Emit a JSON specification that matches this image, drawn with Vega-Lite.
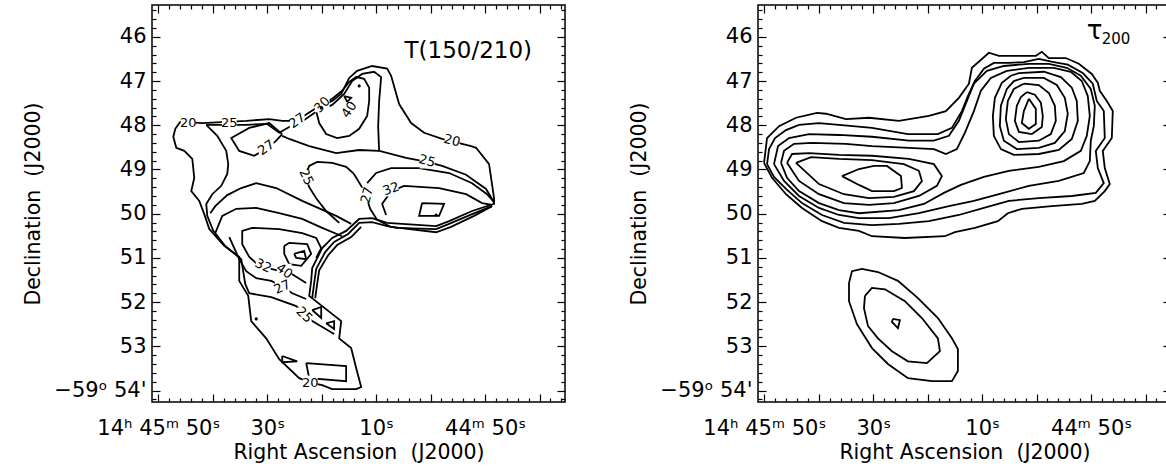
{
"$schema": "https://vega.github.io/schema/vega-lite/v6.json",
"background": "white",
"padding": {"left": 23, "top": -2, "right": 0, "bottom": 0},
"spacing": 62,
"config": {
  "font": "DejaVu Sans",
  "view": {"stroke": "black", "strokeWidth": 1.5},
  "axis": {"domain": false, "grid": false, "tickColor": "black", "tickWidth": 1.2, "labelFont": "DejaVu Sans", "labelFontSize": 21, "labelColor": "black", "titleFont": "DejaVu Sans", "titleFontSize": 20.5, "titleFontWeight": "normal", "titleColor": "black", "labelOverlap": false, "labelFlush": false, "labelBound": false}
},
"datasets": {
"L": [
{"c":"a","i":1,"ra":105.97,"dec":47.92},{"c":"a","i":2,"ra":106.88,"dec":48.08},{"c":"a","i":3,"ra":107.25,"dec":48.26},{"c":"a","i":4,"ra":106.70,"dec":48.51},{"c":"a","i":5,"ra":105.23,"dec":48.58},{"c":"a","i":6,"ra":103.76,"dec":48.76},{"c":"a","i":7,"ra":103.40,"dec":49.19},{"c":"a","i":8,"ra":103.95,"dec":49.49},{"c":"a","i":9,"ra":102.48,"dec":49.71},{"c":"a","i":10,"ra":101.56,"dec":50.01},{"c":"a","i":11,"ra":100.64,"dec":50.35},{"c":"a","i":12,"ra":97.89,"dec":50.73},{"c":"a","i":13,"ra":95.14,"dec":50.98},{"c":"a","i":14,"ra":95.14,"dec":51.52},{"c":"a","i":15,"ra":93.49,"dec":51.86},{"c":"a","i":16,"ra":92.94,"dec":52.43},{"c":"a","i":17,"ra":90.19,"dec":52.82},{"c":"a","i":18,"ra":87.80,"dec":53.29},{"c":"a","i":19,"ra":84.13,"dec":53.72},{"c":"a","i":20,"ra":81.93,"dec":53.83},{"c":"a","i":21,"ra":79.91,"dec":53.88},{"c":"a","i":22,"ra":78.07,"dec":53.97},{"c":"a","i":23,"ra":73.67,"dec":53.97},{"c":"a","i":24,"ra":72.75,"dec":53.92},{"c":"a","i":25,"ra":73.67,"dec":53.49},{"c":"a","i":26,"ra":74.59,"dec":53.04},{"c":"a","i":27,"ra":76.79,"dec":52.82},{"c":"a","i":28,"ra":76.42,"dec":52.43},{"c":"a","i":29,"ra":82.29,"dec":51.86},{"c":"a","i":30,"ra":81.93,"dec":51.52},{"c":"a","i":31,"ra":81.74,"dec":51.23},{"c":"a","i":32,"ra":79.91,"dec":50.78},{"c":"a","i":33,"ra":78.07,"dec":50.55},{"c":"a","i":34,"ra":75.51,"dec":50.39},{"c":"a","i":35,"ra":73.12,"dec":50.12},{"c":"a","i":36,"ra":70.73,"dec":50.10},{"c":"a","i":37,"ra":67.98,"dec":50.21},{"c":"a","i":38,"ra":58.99,"dec":50.28},{"c":"a","i":39,"ra":56.60,"dec":50.17},{"c":"a","i":40,"ra":52.38,"dec":49.94},{"c":"a","i":41,"ra":48.35,"dec":49.78},{"c":"a","i":42,"ra":48.35,"dec":49.65},{"c":"a","i":43,"ra":49.26,"dec":48.88},{"c":"a","i":44,"ra":51.65,"dec":48.51},{"c":"a","i":45,"ra":52.57,"dec":48.47},{"c":"a","i":46,"ra":57.89,"dec":48.31},{"c":"a","i":47,"ra":61.19,"dec":48.17},{"c":"a","i":48,"ra":63.58,"dec":47.95},{"c":"a","i":49,"ra":65.78,"dec":47.52},{"c":"a","i":50,"ra":67.25,"dec":46.88},{"c":"a","i":51,"ra":67.98,"dec":46.72},{"c":"a","i":52,"ra":70.73,"dec":46.66},{"c":"a","i":53,"ra":73.49,"dec":46.77},{"c":"a","i":54,"ra":74.95,"dec":46.93},{"c":"a","i":55,"ra":76.42,"dec":47.29},{"c":"a","i":56,"ra":78.07,"dec":47.45},{"c":"a","i":57,"ra":81.01,"dec":47.61},{"c":"a","i":58,"ra":84.68,"dec":47.90},{"c":"a","i":59,"ra":87.25,"dec":47.90},{"c":"a","i":60,"ra":89.63,"dec":47.86},{"c":"a","i":61,"ra":93.86,"dec":47.90},{"c":"a","i":62,"ra":101.93,"dec":47.95},{"c":"a","i":63,"ra":105.97,"dec":47.92},
{"c":"b","i":1,"ra":101.20,"dec":47.99},{"c":"b","i":2,"ra":99.18,"dec":48.24},{"c":"b","i":3,"ra":97.53,"dec":48.58},{"c":"b","i":4,"ra":97.16,"dec":48.88},{"c":"b","i":5,"ra":97.34,"dec":49.10},{"c":"b","i":6,"ra":98.44,"dec":49.37},{"c":"b","i":7,"ra":100.09,"dec":49.56},{"c":"b","i":8,"ra":101.20,"dec":49.78},{"c":"b","i":9,"ra":101.01,"dec":50.05},{"c":"b","i":10,"ra":99.91,"dec":50.39},{"c":"b","i":11,"ra":97.71,"dec":50.73},{"c":"b","i":12,"ra":94.77,"dec":51.03},{"c":"b","i":13,"ra":94.04,"dec":51.59},{"c":"b","i":14,"ra":93.30,"dec":51.80},{"c":"b","i":15,"ra":89.27,"dec":51.89},{"c":"b","i":16,"ra":84.68,"dec":52.09},{"c":"b","i":17,"ra":81.74,"dec":52.43},{"c":"b","i":18,"ra":77.71,"dec":52.72},
{"c":"c","i":1,"ra":101.20,"dec":47.99},{"c":"c","i":2,"ra":97.89,"dec":47.99},{"c":"c","i":3,"ra":93.86,"dec":47.99},{"c":"c","i":4,"ra":90.00,"dec":47.97},{"c":"c","i":5,"ra":87.80,"dec":48.17},{"c":"c","i":6,"ra":85.96,"dec":48.04},{"c":"c","i":7,"ra":83.21,"dec":47.88},{"c":"c","i":8,"ra":80.83,"dec":47.68},{"c":"c","i":9,"ra":78.07,"dec":47.54},{"c":"c","i":10,"ra":75.87,"dec":47.29},{"c":"c","i":11,"ra":74.40,"dec":47.00},{"c":"c","i":12,"ra":72.57,"dec":46.84},{"c":"c","i":13,"ra":70.37,"dec":46.79},{"c":"c","i":14,"ra":69.08,"dec":46.91},{"c":"c","i":15,"ra":69.45,"dec":47.45},{"c":"c","i":16,"ra":69.63,"dec":48.02},{"c":"c","i":17,"ra":69.45,"dec":48.58},{"c":"c","i":18,"ra":64.50,"dec":48.74},{"c":"c","i":19,"ra":60.64,"dec":48.83},{"c":"c","i":20,"ra":57.89,"dec":48.92},{"c":"c","i":21,"ra":53.49,"dec":49.12},{"c":"c","i":22,"ra":49.82,"dec":49.44},{"c":"c","i":23,"ra":48.35,"dec":49.74},
{"c":"h","i":1,"ra":81.01,"dec":47.68},{"c":"h","i":2,"ra":80.46,"dec":47.95},{"c":"h","i":3,"ra":79.18,"dec":48.20},{"c":"h","i":4,"ra":77.16,"dec":48.29},{"c":"h","i":5,"ra":74.95,"dec":48.24},{"c":"h","i":6,"ra":73.12,"dec":48.08},{"c":"h","i":7,"ra":71.65,"dec":47.79},{"c":"h","i":8,"ra":71.28,"dec":47.45},{"c":"h","i":9,"ra":71.28,"dec":47.15},{"c":"h","i":10,"ra":72.20,"dec":46.95},{"c":"h","i":11,"ra":73.67,"dec":46.91},{"c":"h","i":12,"ra":74.95,"dec":47.02},{"c":"h","i":13,"ra":76.24,"dec":47.22},{"c":"h","i":14,"ra":78.07,"dec":47.40},{"c":"h","i":15,"ra":80.09,"dec":47.54},{"c":"h","i":16,"ra":81.01,"dec":47.68},
{"c":"d","i":1,"ra":87.25,"dec":48.24},{"c":"d","i":2,"ra":85.96,"dec":48.31},{"c":"d","i":3,"ra":82.29,"dec":48.47},{"c":"d","i":4,"ra":77.34,"dec":48.63},{"c":"d","i":5,"ra":73.12,"dec":48.56},{"c":"d","i":6,"ra":69.45,"dec":48.58},
{"c":"e","i":1,"ra":48.71,"dec":49.83},{"c":"e","i":2,"ra":52.38,"dec":50.01},{"c":"e","i":3,"ra":56.60,"dec":50.23},{"c":"e","i":4,"ra":58.99,"dec":50.35},{"c":"e","i":5,"ra":66.15,"dec":50.32},{"c":"e","i":6,"ra":67.98,"dec":50.28},{"c":"e","i":7,"ra":70.73,"dec":50.19},{"c":"e","i":8,"ra":73.12,"dec":50.21},{"c":"e","i":9,"ra":75.14,"dec":50.46},{"c":"e","i":10,"ra":77.71,"dec":50.64},{"c":"e","i":11,"ra":79.36,"dec":50.87},{"c":"e","i":12,"ra":81.01,"dec":51.25},{"c":"e","i":13,"ra":81.38,"dec":51.57},{"c":"e","i":14,"ra":81.74,"dec":51.91},
{"c":"e2","i":1,"ra":72.75,"dec":50.30},{"c":"e2","i":2,"ra":74.59,"dec":50.53},{"c":"e2","i":3,"ra":77.16,"dec":50.71},{"c":"e2","i":4,"ra":78.81,"dec":50.94},{"c":"e2","i":5,"ra":80.46,"dec":51.28},{"c":"e2","i":6,"ra":80.83,"dec":51.59},{"c":"e2","i":7,"ra":81.19,"dec":51.91},
{"c":"f","i":1,"ra":76.79,"dec":50.21},{"c":"f","i":2,"ra":79.18,"dec":49.94},{"c":"f","i":3,"ra":81.01,"dec":49.65},{"c":"f","i":4,"ra":82.29,"dec":49.40},{"c":"f","i":5,"ra":83.03,"dec":49.15},{"c":"f","i":6,"ra":82.29,"dec":48.92},{"c":"f","i":7,"ra":80.83,"dec":48.83},{"c":"f","i":8,"ra":78.07,"dec":48.85},{"c":"f","i":9,"ra":75.51,"dec":48.94},{"c":"f","i":10,"ra":74.22,"dec":49.08},{"c":"f","i":11,"ra":73.85,"dec":49.15},{"c":"f","i":12,"ra":72.75,"dec":49.37},{"c":"f","i":13,"ra":71.83,"dec":49.60},{"c":"f","i":14,"ra":71.10,"dec":49.89},{"c":"f","i":15,"ra":69.82,"dec":50.14},{"c":"f","i":16,"ra":67.25,"dec":50.30},{"c":"f","i":17,"ra":58.99,"dec":50.42},{"c":"f","i":18,"ra":56.24,"dec":50.30},{"c":"f","i":19,"ra":52.02,"dec":50.05},{"c":"f","i":20,"ra":48.71,"dec":49.83},
{"c":"g","i":1,"ra":71.65,"dec":49.31},{"c":"g","i":2,"ra":70.00,"dec":49.08},{"c":"g","i":3,"ra":67.25,"dec":48.97},{"c":"g","i":4,"ra":62.11,"dec":48.97},{"c":"g","i":5,"ra":56.60,"dec":49.08},{"c":"g","i":6,"ra":52.38,"dec":49.31},{"c":"g","i":7,"ra":49.63,"dec":49.56},{"c":"g","i":8,"ra":48.35,"dec":49.74},
{"c":"g2","i":1,"ra":68.17,"dec":50.03},{"c":"g2","i":2,"ra":68.90,"dec":49.78},{"c":"g2","i":3,"ra":67.25,"dec":49.49},{"c":"g2","i":4,"ra":64.86,"dec":49.37},{"c":"g2","i":5,"ra":58.44,"dec":49.42},{"c":"g2","i":6,"ra":53.49,"dec":49.56},{"c":"g2","i":7,"ra":50.55,"dec":49.76},{"c":"g2","i":8,"ra":48.71,"dec":49.80},
{"c":"bx","i":1,"ra":61.56,"dec":49.76},{"c":"bx","i":2,"ra":57.52,"dec":49.78},{"c":"bx","i":3,"ra":58.44,"dec":50.05},{"c":"bx","i":4,"ra":62.11,"dec":50.05},{"c":"bx","i":5,"ra":61.56,"dec":49.76},
{"c":"q1","i":1,"ra":100.46,"dec":49.99},{"c":"q1","i":2,"ra":99.54,"dec":49.83},{"c":"q1","i":3,"ra":97.34,"dec":49.58},{"c":"q1","i":4,"ra":94.77,"dec":49.42},{"c":"q1","i":5,"ra":92.02,"dec":49.31},{"c":"q1","i":6,"ra":88.35,"dec":49.42},{"c":"q1","i":7,"ra":83.58,"dec":49.71},{"c":"q1","i":8,"ra":77.34,"dec":50.05},{"c":"q1","i":9,"ra":74.59,"dec":50.23},
{"c":"q2","i":1,"ra":99.54,"dec":50.44},{"c":"q2","i":2,"ra":98.26,"dec":50.05},{"c":"q2","i":3,"ra":95.69,"dec":49.89},{"c":"q2","i":4,"ra":92.02,"dec":49.87},{"c":"q2","i":5,"ra":87.80,"dec":49.99},{"c":"q2","i":6,"ra":83.58,"dec":50.12},{"c":"q2","i":7,"ra":79.91,"dec":50.32},{"c":"q2","i":8,"ra":76.24,"dec":50.51},
{"c":"q3","i":1,"ra":81.01,"dec":51.00},{"c":"q3","i":2,"ra":80.09,"dec":50.78},{"c":"q3","i":3,"ra":81.01,"dec":50.55},{"c":"q3","i":4,"ra":83.58,"dec":50.44},{"c":"q3","i":5,"ra":87.80,"dec":50.35},{"c":"q3","i":6,"ra":92.75,"dec":50.32},{"c":"q3","i":7,"ra":94.59,"dec":50.39},{"c":"q3","i":8,"ra":94.59,"dec":50.69},{"c":"q3","i":9,"ra":93.30,"dec":50.98},{"c":"q3","i":10,"ra":92.02,"dec":51.12},{"c":"q3","i":11,"ra":89.27,"dec":51.25},{"c":"q3","i":12,"ra":85.41,"dec":51.37},{"c":"q3","i":13,"ra":82.85,"dec":51.57},
{"c":"p","i":1,"ra":86.88,"dec":50.73},{"c":"p","i":2,"ra":85.96,"dec":50.66},{"c":"p","i":3,"ra":82.66,"dec":50.69},{"c":"p","i":4,"ra":81.93,"dec":50.91},{"c":"p","i":5,"ra":83.76,"dec":51.18},{"c":"p","i":6,"ra":85.96,"dec":51.14},{"c":"p","i":7,"ra":86.88,"dec":50.91},{"c":"p","i":8,"ra":86.88,"dec":50.73},
{"c":"t1","i":1,"ra":85.05,"dec":50.91},{"c":"t1","i":2,"ra":83.21,"dec":50.84},{"c":"t1","i":3,"ra":82.85,"dec":51.03},{"c":"t1","i":4,"ra":84.68,"dec":51.00},{"c":"t1","i":5,"ra":85.05,"dec":50.91},
{"c":"q4","i":1,"ra":96.97,"dec":50.53},{"c":"q4","i":2,"ra":95.14,"dec":51.03},{"c":"q4","i":3,"ra":93.86,"dec":51.30},{"c":"q4","i":4,"ra":92.02,"dec":51.46},{"c":"q4","i":5,"ra":89.27,"dec":51.52},{"c":"q4","i":6,"ra":87.25,"dec":51.64},{"c":"q4","i":7,"ra":85.41,"dec":51.80},{"c":"q4","i":8,"ra":82.85,"dec":51.93},
{"c":"t2","i":1,"ra":81.74,"dec":52.18},{"c":"t2","i":2,"ra":80.09,"dec":52.11},{"c":"t2","i":3,"ra":80.09,"dec":52.36},{"c":"t2","i":4,"ra":81.74,"dec":52.18},
{"c":"t3","i":1,"ra":79.18,"dec":52.48},{"c":"t3","i":2,"ra":77.71,"dec":52.43},{"c":"t3","i":3,"ra":77.71,"dec":52.61},{"c":"t3","i":4,"ra":79.18,"dec":52.48},
{"c":"t4","i":1,"ra":87.25,"dec":53.22},{"c":"t4","i":2,"ra":84.50,"dec":53.34},{"c":"t4","i":3,"ra":87.25,"dec":53.36},{"c":"t4","i":4,"ra":87.25,"dec":53.22},
{"c":"r","i":1,"ra":82.85,"dec":53.38},{"c":"r","i":2,"ra":75.51,"dec":53.45},{"c":"r","i":3,"ra":75.51,"dec":53.79},{"c":"r","i":4,"ra":82.29,"dec":53.72},{"c":"r","i":5,"ra":82.85,"dec":53.38},
{"c":"k","i":1,"ra":87.25,"dec":48.20},{"c":"k","i":2,"ra":88.35,"dec":48.35},{"c":"k","i":3,"ra":90.19,"dec":48.54},{"c":"k","i":4,"ra":92.39,"dec":48.69},{"c":"k","i":5,"ra":95.14,"dec":48.58},{"c":"k","i":6,"ra":96.61,"dec":48.29},{"c":"k","i":7,"ra":93.30,"dec":48.06},{"c":"k","i":8,"ra":89.63,"dec":47.95},{"c":"k","i":9,"ra":87.25,"dec":48.20},
{"c":"t5","i":1,"ra":75.87,"dec":47.34},{"c":"t5","i":2,"ra":74.59,"dec":47.38},{"c":"t5","i":3,"ra":75.32,"dec":47.47},{"c":"t5","i":4,"ra":75.87,"dec":47.34}
],
"Ldots": [
{"ra":58.99,"dec":50.03},{"ra":80.09,"dec":47.61},{"ra":73.12,"dec":47.11},{"ra":92.02,"dec":52.38}
],
"Llab": [
{"t":"20","ra":104.50,"dec":47.95,"a":0},{"t":"25","ra":96.97,"dec":47.95,"a":0},{"t":"27","ra":84.50,"dec":47.90,"a":-35},{"t":"27","ra":90.19,"dec":48.51,"a":-35},{"t":"30","ra":79.91,"dec":47.54,"a":-45},{"t":"40","ra":74.95,"dec":47.65,"a":-55},{"t":"20","ra":56.05,"dec":48.35,"a":15},{"t":"25","ra":60.64,"dec":48.81,"a":15},{"t":"25","ra":82.85,"dec":49.17,"a":65},{"t":"27","ra":71.65,"dec":49.58,"a":-75},{"t":"32","ra":67.25,"dec":49.44,"a":-20},{"t":"32","ra":90.74,"dec":51.18,"a":25},{"t":"40","ra":86.88,"dec":51.30,"a":35},{"t":"27","ra":87.25,"dec":51.66,"a":-25},{"t":"25","ra":83.21,"dec":52.29,"a":45},{"t":"20","ra":82.11,"dec":53.83,"a":0}
],
"Lnote": [{"t":"T(150/210)","ra":41.37,"dec":46.475}],
"R": [
{"c":"r1","i":1,"ra":110.05,"dec":48.85},{"c":"r1","i":2,"ra":109.50,"dec":48.29},{"c":"r1","i":3,"ra":107.30,"dec":48.02},{"c":"r1","i":4,"ra":104.18,"dec":47.83},{"c":"r1","i":5,"ra":100.33,"dec":47.72},{"c":"r1","i":6,"ra":98.68,"dec":47.74},{"c":"r1","i":7,"ra":95.01,"dec":47.86},{"c":"r1","i":8,"ra":90.78,"dec":47.83},{"c":"r1","i":9,"ra":85.28,"dec":47.90},{"c":"r1","i":10,"ra":79.77,"dec":47.79},{"c":"r1","i":11,"ra":76.66,"dec":47.68},{"c":"r1","i":12,"ra":74.27,"dec":47.38},{"c":"r1","i":13,"ra":72.43,"dec":47.06},{"c":"r1","i":14,"ra":71.88,"dec":46.70},{"c":"r1","i":15,"ra":68.76,"dec":46.36},{"c":"r1","i":16,"ra":66.93,"dec":46.43},{"c":"r1","i":17,"ra":63.81,"dec":46.43},{"c":"r1","i":18,"ra":60.14,"dec":46.43},{"c":"r1","i":19,"ra":59.04,"dec":46.34},{"c":"r1","i":20,"ra":57.75,"dec":46.48},{"c":"r1","i":21,"ra":54.64,"dec":46.48},{"c":"r1","i":22,"ra":52.25,"dec":46.61},{"c":"r1","i":23,"ra":49.86,"dec":46.84},{"c":"r1","i":24,"ra":48.76,"dec":47.04},{"c":"r1","i":25,"ra":48.40,"dec":47.22},{"c":"r1","i":26,"ra":47.11,"dec":47.45},{"c":"r1","i":27,"ra":46.01,"dec":47.68},{"c":"r1","i":28,"ra":46.19,"dec":48.29},{"c":"r1","i":29,"ra":47.85,"dec":48.58},{"c":"r1","i":30,"ra":47.48,"dec":48.97},{"c":"r1","i":31,"ra":46.56,"dec":49.33},{"c":"r1","i":32,"ra":47.48,"dec":49.49},{"c":"r1","i":33,"ra":49.31,"dec":49.71},{"c":"r1","i":34,"ra":51.70,"dec":49.78},{"c":"r1","i":35,"ra":57.20,"dec":49.83},{"c":"r1","i":36,"ra":62.71,"dec":49.89},{"c":"r1","i":37,"ra":65.28,"dec":49.99},{"c":"r1","i":38,"ra":67.11,"dec":50.17},{"c":"r1","i":39,"ra":71.33,"dec":50.32},{"c":"r1","i":40,"ra":75.00,"dec":50.42},{"c":"r1","i":41,"ra":76.84,"dec":50.51},{"c":"r1","i":42,"ra":84.18,"dec":50.55},{"c":"r1","i":43,"ra":90.23,"dec":50.51},{"c":"r1","i":44,"ra":92.62,"dec":50.39},{"c":"r1","i":45,"ra":96.29,"dec":50.32},{"c":"r1","i":46,"ra":99.41,"dec":50.17},{"c":"r1","i":47,"ra":103.08,"dec":49.87},{"c":"r1","i":48,"ra":106.02,"dec":49.56},{"c":"r1","i":49,"ra":108.58,"dec":49.19},{"c":"r1","i":50,"ra":110.05,"dec":48.85},
{"c":"r2","i":1,"ra":109.50,"dec":48.88},{"c":"r2","i":2,"ra":109.13,"dec":48.54},{"c":"r2","i":3,"ra":108.03,"dec":48.29},{"c":"r2","i":4,"ra":106.02,"dec":48.11},{"c":"r2","i":5,"ra":103.63,"dec":47.99},{"c":"r2","i":6,"ra":99.96,"dec":47.95},{"c":"r2","i":7,"ra":96.29,"dec":47.99},{"c":"r2","i":8,"ra":90.23,"dec":48.06},{"c":"r2","i":9,"ra":83.63,"dec":48.20},{"c":"r2","i":10,"ra":78.12,"dec":48.20},{"c":"r2","i":11,"ra":75.55,"dec":48.06},{"c":"r2","i":12,"ra":73.72,"dec":47.68},{"c":"r2","i":13,"ra":72.62,"dec":47.34},{"c":"r2","i":14,"ra":71.33,"dec":47.00},{"c":"r2","i":15,"ra":69.68,"dec":46.72},{"c":"r2","i":16,"ra":67.85,"dec":46.59},{"c":"r2","i":17,"ra":65.09,"dec":46.59},{"c":"r2","i":18,"ra":62.34,"dec":46.57},{"c":"r2","i":19,"ra":59.59,"dec":46.50},{"c":"r2","i":20,"ra":56.84,"dec":46.57},{"c":"r2","i":21,"ra":54.27,"dec":46.63},{"c":"r2","i":22,"ra":51.52,"dec":46.82},{"c":"r2","i":23,"ra":49.68,"dec":47.06},{"c":"r2","i":24,"ra":48.95,"dec":47.45},{"c":"r2","i":25,"ra":47.66,"dec":47.68},{"c":"r2","i":26,"ra":47.48,"dec":48.29},{"c":"r2","i":27,"ra":49.13,"dec":48.58},{"c":"r2","i":28,"ra":48.76,"dec":48.97},{"c":"r2","i":29,"ra":47.66,"dec":49.31},{"c":"r2","i":30,"ra":49.13,"dec":49.53},{"c":"r2","i":31,"ra":53.53,"dec":49.60},{"c":"r2","i":32,"ra":59.59,"dec":49.65},{"c":"r2","i":33,"ra":65.09,"dec":49.71},{"c":"r2","i":34,"ra":69.68,"dec":49.87},{"c":"r2","i":35,"ra":74.27,"dec":50.03},{"c":"r2","i":36,"ra":79.77,"dec":50.17},{"c":"r2","i":37,"ra":85.28,"dec":50.23},{"c":"r2","i":38,"ra":90.23,"dec":50.26},{"c":"r2","i":39,"ra":95.37,"dec":50.21},{"c":"r2","i":40,"ra":99.41,"dec":50.03},{"c":"r2","i":41,"ra":103.08,"dec":49.76},{"c":"r2","i":42,"ra":106.02,"dec":49.44},{"c":"r2","i":43,"ra":108.22,"dec":49.17},{"c":"r2","i":44,"ra":109.50,"dec":48.88},
{"c":"r3","i":1,"ra":108.22,"dec":48.88},{"c":"r3","i":2,"ra":107.48,"dec":48.47},{"c":"r3","i":3,"ra":105.46,"dec":48.29},{"c":"r3","i":4,"ra":101.79,"dec":48.20},{"c":"r3","i":5,"ra":96.29,"dec":48.22},{"c":"r3","i":6,"ra":90.23,"dec":48.26},{"c":"r3","i":7,"ra":83.44,"dec":48.35},{"c":"r3","i":8,"ra":78.86,"dec":48.35},{"c":"r3","i":9,"ra":76.10,"dec":48.24},{"c":"r3","i":10,"ra":74.27,"dec":47.90},{"c":"r3","i":11,"ra":72.80,"dec":47.45},{"c":"r3","i":12,"ra":71.52,"dec":47.06},{"c":"r3","i":13,"ra":69.13,"dec":46.77},{"c":"r3","i":14,"ra":66.01,"dec":46.66},{"c":"r3","i":15,"ra":61.42,"dec":46.61},{"c":"r3","i":16,"ra":57.75,"dec":46.61},{"c":"r3","i":17,"ra":54.45,"dec":46.70},{"c":"r3","i":18,"ra":51.88,"dec":46.88},{"c":"r3","i":19,"ra":50.05,"dec":47.18},{"c":"r3","i":20,"ra":49.31,"dec":47.56},{"c":"r3","i":21,"ra":49.50,"dec":48.02},{"c":"r3","i":22,"ra":50.05,"dec":48.35},{"c":"r3","i":23,"ra":50.23,"dec":48.81},{"c":"r3","i":24,"ra":51.33,"dec":49.08},{"c":"r3","i":25,"ra":55.92,"dec":49.26},{"c":"r3","i":26,"ra":61.42,"dec":49.37},{"c":"r3","i":27,"ra":66.93,"dec":49.56},{"c":"r3","i":28,"ra":71.52,"dec":49.71},{"c":"r3","i":29,"ra":76.10,"dec":49.83},{"c":"r3","i":30,"ra":81.61,"dec":49.99},{"c":"r3","i":31,"ra":87.11,"dec":50.10},{"c":"r3","i":32,"ra":92.62,"dec":50.10},{"c":"r3","i":33,"ra":96.29,"dec":50.03},{"c":"r3","i":34,"ra":99.96,"dec":49.87},{"c":"r3","i":35,"ra":103.63,"dec":49.60},{"c":"r3","i":36,"ra":106.38,"dec":49.26},{"c":"r3","i":37,"ra":108.22,"dec":48.88},
{"c":"r4","i":1,"ra":106.93,"dec":48.85},{"c":"r4","i":2,"ra":106.38,"dec":48.58},{"c":"r4","i":3,"ra":104.55,"dec":48.42},{"c":"r4","i":4,"ra":101.24,"dec":48.40},{"c":"r4","i":5,"ra":95.01,"dec":48.42},{"c":"r4","i":6,"ra":90.23,"dec":48.47},{"c":"r4","i":7,"ra":83.44,"dec":48.51},{"c":"r4","i":8,"ra":78.86,"dec":48.54},{"c":"r4","i":9,"ra":76.66,"dec":48.65},{"c":"r4","i":10,"ra":74.64,"dec":48.54},{"c":"r4","i":11,"ra":73.17,"dec":48.17},{"c":"r4","i":12,"ra":71.52,"dec":47.68},{"c":"r4","i":13,"ra":70.23,"dec":47.22},{"c":"r4","i":14,"ra":68.40,"dec":46.93},{"c":"r4","i":15,"ra":65.46,"dec":46.77},{"c":"r4","i":16,"ra":61.42,"dec":46.70},{"c":"r4","i":17,"ra":56.84,"dec":46.70},{"c":"r4","i":18,"ra":53.72,"dec":46.79},{"c":"r4","i":19,"ra":51.70,"dec":47.00},{"c":"r4","i":20,"ra":50.60,"dec":47.34},{"c":"r4","i":21,"ra":50.23,"dec":47.79},{"c":"r4","i":22,"ra":50.78,"dec":48.24},{"c":"r4","i":23,"ra":51.88,"dec":48.58},{"c":"r4","i":24,"ra":55.00,"dec":48.81},{"c":"r4","i":25,"ra":59.59,"dec":48.94},{"c":"r4","i":26,"ra":65.09,"dec":49.03},{"c":"r4","i":27,"ra":69.68,"dec":49.17},{"c":"r4","i":28,"ra":73.90,"dec":49.35},{"c":"r4","i":29,"ra":77.02,"dec":49.53},{"c":"r4","i":30,"ra":80.69,"dec":49.78},{"c":"r4","i":31,"ra":85.28,"dec":49.92},{"c":"r4","i":32,"ra":92.62,"dec":49.99},{"c":"r4","i":33,"ra":96.29,"dec":49.92},{"c":"r4","i":34,"ra":99.96,"dec":49.76},{"c":"r4","i":35,"ra":103.63,"dec":49.49},{"c":"r4","i":36,"ra":105.83,"dec":49.19},{"c":"r4","i":37,"ra":106.93,"dec":48.85},
{"c":"l5","i":1,"ra":105.83,"dec":48.85},{"c":"l5","i":2,"ra":104.91,"dec":48.65},{"c":"l5","i":3,"ra":101.79,"dec":48.63},{"c":"l5","i":4,"ra":96.29,"dec":48.67},{"c":"l5","i":5,"ra":90.23,"dec":48.69},{"c":"l5","i":6,"ra":83.44,"dec":48.76},{"c":"l5","i":7,"ra":78.86,"dec":48.88},{"c":"l5","i":8,"ra":77.39,"dec":49.15},{"c":"l5","i":9,"ra":78.31,"dec":49.37},{"c":"l5","i":10,"ra":81.61,"dec":49.60},{"c":"l5","i":11,"ra":86.20,"dec":49.76},{"c":"l5","i":12,"ra":90.78,"dec":49.80},{"c":"l5","i":13,"ra":95.37,"dec":49.76},{"c":"l5","i":14,"ra":99.96,"dec":49.56},{"c":"l5","i":15,"ra":103.63,"dec":49.26},{"c":"l5","i":16,"ra":105.83,"dec":48.85},
{"c":"l6","i":1,"ra":104.18,"dec":48.85},{"c":"l6","i":2,"ra":101.43,"dec":48.72},{"c":"l6","i":3,"ra":96.29,"dec":48.76},{"c":"l6","i":4,"ra":90.23,"dec":48.79},{"c":"l6","i":5,"ra":84.36,"dec":48.88},{"c":"l6","i":6,"ra":81.61,"dec":49.03},{"c":"l6","i":7,"ra":81.06,"dec":49.26},{"c":"l6","i":8,"ra":82.53,"dec":49.49},{"c":"l6","i":9,"ra":86.20,"dec":49.62},{"c":"l6","i":10,"ra":90.78,"dec":49.65},{"c":"l6","i":11,"ra":95.37,"dec":49.56},{"c":"l6","i":12,"ra":99.96,"dec":49.33},{"c":"l6","i":13,"ra":104.18,"dec":48.85},
{"c":"l7","i":1,"ra":95.74,"dec":49.15},{"c":"l7","i":2,"ra":92.62,"dec":48.99},{"c":"l7","i":3,"ra":89.87,"dec":48.92},{"c":"l7","i":4,"ra":87.48,"dec":48.92},{"c":"l7","i":5,"ra":84.91,"dec":49.15},{"c":"l7","i":6,"ra":84.73,"dec":49.42},{"c":"l7","i":7,"ra":86.20,"dec":49.49},{"c":"l7","i":8,"ra":90.23,"dec":49.49},{"c":"l7","i":9,"ra":92.62,"dec":49.35},{"c":"l7","i":10,"ra":95.74,"dec":49.15},
{"c":"c5","i":1,"ra":63.26,"dec":46.82},{"c":"c5","i":2,"ra":58.67,"dec":46.79},{"c":"c5","i":3,"ra":55.55,"dec":46.91},{"c":"c5","i":4,"ra":53.53,"dec":47.15},{"c":"c5","i":5,"ra":52.62,"dec":47.45},{"c":"c5","i":6,"ra":52.43,"dec":47.90},{"c":"c5","i":7,"ra":53.53,"dec":48.31},{"c":"c5","i":8,"ra":55.92,"dec":48.56},{"c":"c5","i":9,"ra":59.59,"dec":48.65},{"c":"c5","i":10,"ra":64.18,"dec":48.67},{"c":"c5","i":11,"ra":66.56,"dec":48.54},{"c":"c5","i":12,"ra":67.85,"dec":48.24},{"c":"c5","i":13,"ra":68.03,"dec":47.79},{"c":"c5","i":14,"ra":67.66,"dec":47.38},{"c":"c5","i":15,"ra":66.38,"dec":47.04},{"c":"c5","i":16,"ra":64.73,"dec":46.88},{"c":"c5","i":17,"ra":63.26,"dec":46.82},
{"c":"c4","i":1,"ra":62.34,"dec":46.93},{"c":"c4","i":2,"ra":58.67,"dec":46.93},{"c":"c4","i":3,"ra":56.29,"dec":47.09},{"c":"c4","i":4,"ra":54.82,"dec":47.38},{"c":"c4","i":5,"ra":54.27,"dec":47.74},{"c":"c4","i":6,"ra":54.82,"dec":48.13},{"c":"c4","i":7,"ra":56.65,"dec":48.40},{"c":"c4","i":8,"ra":59.59,"dec":48.51},{"c":"c4","i":9,"ra":63.63,"dec":48.54},{"c":"c4","i":10,"ra":66.01,"dec":48.35},{"c":"c4","i":11,"ra":66.75,"dec":48.02},{"c":"c4","i":12,"ra":66.56,"dec":47.56},{"c":"c4","i":13,"ra":65.46,"dec":47.18},{"c":"c4","i":14,"ra":64.18,"dec":47.00},{"c":"c4","i":15,"ra":62.34,"dec":46.93},
{"c":"c3","i":1,"ra":62.34,"dec":47.06},{"c":"c3","i":2,"ra":59.59,"dec":47.09},{"c":"c3","i":3,"ra":57.75,"dec":47.27},{"c":"c3","i":4,"ra":56.65,"dec":47.56},{"c":"c3","i":5,"ra":56.47,"dec":47.90},{"c":"c3","i":6,"ra":57.39,"dec":48.20},{"c":"c3","i":7,"ra":59.59,"dec":48.35},{"c":"c3","i":8,"ra":63.26,"dec":48.38},{"c":"c3","i":9,"ra":65.09,"dec":48.20},{"c":"c3","i":10,"ra":65.65,"dec":47.86},{"c":"c3","i":11,"ra":65.28,"dec":47.45},{"c":"c3","i":12,"ra":64.18,"dec":47.18},{"c":"c3","i":13,"ra":62.34,"dec":47.06},
{"c":"c2","i":1,"ra":61.79,"dec":47.25},{"c":"c2","i":2,"ra":60.32,"dec":47.31},{"c":"c2","i":3,"ra":59.22,"dec":47.49},{"c":"c2","i":4,"ra":58.86,"dec":47.79},{"c":"c2","i":5,"ra":59.04,"dec":48.04},{"c":"c2","i":6,"ra":60.87,"dec":48.20},{"c":"c2","i":7,"ra":63.26,"dec":48.15},{"c":"c2","i":8,"ra":63.99,"dec":47.90},{"c":"c2","i":9,"ra":63.63,"dec":47.56},{"c":"c2","i":10,"ra":62.89,"dec":47.36},{"c":"c2","i":11,"ra":61.79,"dec":47.25},
{"c":"c1","i":1,"ra":61.42,"dec":47.40},{"c":"c1","i":2,"ra":60.14,"dec":47.63},{"c":"c1","i":3,"ra":60.14,"dec":47.97},{"c":"c1","i":4,"ra":61.42,"dec":48.08},{"c":"c1","i":5,"ra":62.71,"dec":47.95},{"c":"c1","i":6,"ra":62.34,"dec":47.68},{"c":"c1","i":7,"ra":61.42,"dec":47.40},
{"c":"b1","i":1,"ra":94.45,"dec":51.57},{"c":"b1","i":2,"ra":93.90,"dec":51.30},{"c":"b1","i":3,"ra":92.07,"dec":51.25},{"c":"b1","i":4,"ra":89.13,"dec":51.32},{"c":"b1","i":5,"ra":85.46,"dec":51.52},{"c":"b1","i":6,"ra":81.79,"dec":51.91},{"c":"b1","i":7,"ra":78.12,"dec":52.36},{"c":"b1","i":8,"ra":75.55,"dec":52.82},{"c":"b1","i":9,"ra":74.45,"dec":53.06},{"c":"b1","i":10,"ra":74.45,"dec":53.56},{"c":"b1","i":11,"ra":75.55,"dec":53.79},{"c":"b1","i":12,"ra":79.22,"dec":53.79},{"c":"b1","i":13,"ra":83.63,"dec":53.72},{"c":"b1","i":14,"ra":87.30,"dec":53.40},{"c":"b1","i":15,"ra":90.23,"dec":53.04},{"c":"b1","i":16,"ra":92.99,"dec":52.50},{"c":"b1","i":17,"ra":94.45,"dec":51.98},{"c":"b1","i":18,"ra":94.45,"dec":51.57},
{"c":"b2","i":1,"ra":91.52,"dec":51.86},{"c":"b2","i":2,"ra":90.23,"dec":51.68},{"c":"b2","i":3,"ra":87.85,"dec":51.71},{"c":"b2","i":4,"ra":84.18,"dec":51.98},{"c":"b2","i":5,"ra":81.06,"dec":52.36},{"c":"b2","i":6,"ra":78.12,"dec":52.82},{"c":"b2","i":7,"ra":77.76,"dec":53.11},{"c":"b2","i":8,"ra":80.14,"dec":53.38},{"c":"b2","i":9,"ra":83.63,"dec":53.34},{"c":"b2","i":10,"ra":86.56,"dec":53.11},{"c":"b2","i":11,"ra":89.13,"dec":52.82},{"c":"b2","i":12,"ra":90.97,"dec":52.54},{"c":"b2","i":13,"ra":91.70,"dec":52.14},{"c":"b2","i":14,"ra":91.52,"dec":51.86},
{"c":"b3","i":1,"ra":86.38,"dec":52.38},{"c":"b3","i":2,"ra":85.10,"dec":52.41},{"c":"b3","i":3,"ra":85.46,"dec":52.59},{"c":"b3","i":4,"ra":86.56,"dec":52.45},{"c":"b3","i":5,"ra":86.38,"dec":52.38}
],
"Rnote": [{"t":"τ","ra":50.80,"dec":46.05,"s":26,"w":"bold"},{"t":"200","ra":48.03,"dec":46.17,"s":15,"w":"normal"}]
},
"hconcat": [
{
"width": 413, "height": 397,
"resolve": {"axis": {"x": "independent", "y": "independent"}},
"layer": [
{
"data": {"name": "L"},
"mark": {"type": "line", "color": "black", "strokeWidth": 1.8, "clip": true},
"encoding": {
 "x": {"field": "ra", "type": "quantitative", "scale": {"domain": [35.32, 111.16], "reverse": true, "nice": false, "zero": false},
   "axis": {"orient": "bottom", "title": "Right Ascension\u00a0 (J2000)", "titlePadding": 0,
     "values": [36,38,40,42,44,46,48,50,52,54,56,58,60,62,64,66,68,70,72,74,76,78,80,82,84,86,88,90,92,94,96,98,100,102,104,106,108,110],
     "tickSize": {"condition": {"test": "datum.value % 10 === 0", "value": -8}, "value": -4},
     "labelPadding": 23,
     "labelExpr": "datum.value === 110 ? '14ʰ 45ᵐ 50ˢ' : datum.value === 90 ? '30ˢ' : datum.value === 70 ? '10ˢ' : datum.value === 50 ? '44ᵐ 50ˢ' : ''"}},
 "y": {"field": "dec", "type": "quantitative", "scale": {"domain": [45.28, 54.26], "reverse": true, "nice": false, "zero": false},
   "axis": {"orient": "left", "title": "Declination\u00a0 (J2000)", "titlePadding": 10,
     "values": [45.4,45.6,45.8,46,46.2,46.4,46.6,46.8,47,47.2,47.4,47.6,47.8,48,48.2,48.4,48.6,48.8,49,49.2,49.4,49.6,49.8,50,50.2,50.4,50.6,50.8,51,51.2,51.4,51.6,51.8,52,52.2,52.4,52.6,52.8,53,53.2,53.4,53.6,53.8,54,54.2],
     "tickSize": {"condition": {"test": "abs(datum.value - round(datum.value)) < 0.01", "value": -8}, "value": -4},
     "labelPadding": 14,
     "labelExpr": "abs(datum.value - round(datum.value)) < 0.01 ? (round(datum.value) === 54 ? \"−59ᵒ 54'\" : format(datum.value, 'd')) : ''"}},
 "detail": {"field": "c", "type": "nominal"},
 "order": {"field": "i", "type": "quantitative"}
}
},
{
"data": {"name": "Llab"},
"mark": {"type": "square", "size": 220, "color": "white", "opacity": 1, "filled": true, "strokeWidth": 0},
"encoding": {
 "x": {"field": "ra", "type": "quantitative",
   "axis": {"orient": "top", "title": null, "labels": false,
     "values": [36,38,40,42,44,46,48,50,52,54,56,58,60,62,64,66,68,70,72,74,76,78,80,82,84,86,88,90,92,94,96,98,100,102,104,106,108,110],
     "tickSize": {"condition": {"test": "datum.value % 10 === 0", "value": -8}, "value": -4}}},
 "y": {"field": "dec", "type": "quantitative",
   "axis": {"orient": "right", "title": null, "labels": false,
     "values": [45.4,45.6,45.8,46,46.2,46.4,46.6,46.8,47,47.2,47.4,47.6,47.8,48,48.2,48.4,48.6,48.8,49,49.2,49.4,49.6,49.8,50,50.2,50.4,50.6,50.8,51,51.2,51.4,51.6,51.8,52,52.2,52.4,52.6,52.8,53,53.2,53.4,53.6,53.8,54,54.2],
     "tickSize": {"condition": {"test": "abs(datum.value - round(datum.value)) < 0.01", "value": -8}, "value": -4}}}
}
},
{
"data": {"name": "Llab"},
"mark": {"type": "text", "color": "black", "fontSize": 13, "font": "DejaVu Sans", "align": "center", "baseline": "middle"},
"encoding": {
 "x": {"field": "ra", "type": "quantitative", "axis": null},
 "y": {"field": "dec", "type": "quantitative", "axis": null},
 "text": {"field": "t"},
 "angle": {"field": "a", "type": "quantitative", "scale": null}
}
},
{
"data": {"name": "Ldots"},
"mark": {"type": "point", "filled": true, "color": "black", "size": 10, "opacity": 1},
"encoding": {
 "x": {"field": "ra", "type": "quantitative", "axis": null},
 "y": {"field": "dec", "type": "quantitative", "axis": null}
}
},
{
"data": {"name": "Lnote"},
"mark": {"type": "text", "color": "black", "fontSize": 23, "font": "DejaVu Sans", "align": "right", "baseline": "alphabetic"},
"encoding": {
 "x": {"field": "ra", "type": "quantitative", "axis": null},
 "y": {"field": "dec", "type": "quantitative", "axis": null},
 "text": {"field": "t"}
}
}
]
},
{
"width": 413, "height": 397,
"resolve": {"axis": {"x": "independent", "y": "independent"}},
"layer": [
{
"data": {"name": "R"},
"mark": {"type": "line", "color": "black", "strokeWidth": 1.8, "clip": true},
"encoding": {
 "x": {"field": "ra", "type": "quantitative", "scale": {"domain": [35.32, 111.16], "reverse": true, "nice": false, "zero": false},
   "axis": {"orient": "bottom", "title": "Right Ascension\u00a0 (J2000)", "titlePadding": 0,
     "values": [36,38,40,42,44,46,48,50,52,54,56,58,60,62,64,66,68,70,72,74,76,78,80,82,84,86,88,90,92,94,96,98,100,102,104,106,108,110],
     "tickSize": {"condition": {"test": "datum.value % 10 === 0", "value": -8}, "value": -4},
     "labelPadding": 23,
     "labelExpr": "datum.value === 110 ? '14ʰ 45ᵐ 50ˢ' : datum.value === 90 ? '30ˢ' : datum.value === 70 ? '10ˢ' : datum.value === 50 ? '44ᵐ 50ˢ' : ''"}},
 "y": {"field": "dec", "type": "quantitative", "scale": {"domain": [45.28, 54.26], "reverse": true, "nice": false, "zero": false},
   "axis": {"orient": "left", "title": "Declination\u00a0 (J2000)", "titlePadding": 10,
     "values": [45.4,45.6,45.8,46,46.2,46.4,46.6,46.8,47,47.2,47.4,47.6,47.8,48,48.2,48.4,48.6,48.8,49,49.2,49.4,49.6,49.8,50,50.2,50.4,50.6,50.8,51,51.2,51.4,51.6,51.8,52,52.2,52.4,52.6,52.8,53,53.2,53.4,53.6,53.8,54,54.2],
     "tickSize": {"condition": {"test": "abs(datum.value - round(datum.value)) < 0.01", "value": -8}, "value": -4},
     "labelPadding": 14,
     "labelExpr": "abs(datum.value - round(datum.value)) < 0.01 ? (round(datum.value) === 54 ? \"−59ᵒ 54'\" : format(datum.value, 'd')) : ''"}},
 "detail": {"field": "c", "type": "nominal"},
 "order": {"field": "i", "type": "quantitative"}
}
},
{
"data": {"name": "Rnote"},
"mark": {"type": "text", "color": "black", "font": "DejaVu Sans", "align": "left", "baseline": "alphabetic"},
"encoding": {
 "x": {"field": "ra", "type": "quantitative",
   "axis": {"orient": "top", "title": null, "labels": false,
     "values": [36,38,40,42,44,46,48,50,52,54,56,58,60,62,64,66,68,70,72,74,76,78,80,82,84,86,88,90,92,94,96,98,100,102,104,106,108,110],
     "tickSize": {"condition": {"test": "datum.value % 10 === 0", "value": -8}, "value": -4}}},
 "y": {"field": "dec", "type": "quantitative",
   "axis": {"orient": "right", "title": null, "labels": false,
     "values": [45.4,45.6,45.8,46,46.2,46.4,46.6,46.8,47,47.2,47.4,47.6,47.8,48,48.2,48.4,48.6,48.8,49,49.2,49.4,49.6,49.8,50,50.2,50.4,50.6,50.8,51,51.2,51.4,51.6,51.8,52,52.2,52.4,52.6,52.8,53,53.2,53.4,53.6,53.8,54,54.2],
     "tickSize": {"condition": {"test": "abs(datum.value - round(datum.value)) < 0.01", "value": -8}, "value": -4}}},
 "text": {"field": "t"},
 "size": {"field": "s", "type": "quantitative", "scale": null},
 "fontWeight": {"field": "w", "type": "nominal", "scale": null}
}
}
]
}
]
}
